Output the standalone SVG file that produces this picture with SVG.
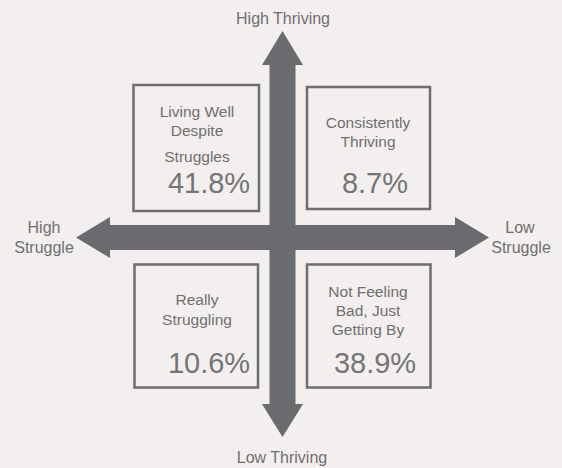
<svg xmlns="http://www.w3.org/2000/svg" width="562" height="468" viewBox="0 0 562 468">
<style>
text{font-family:"Liberation Sans",Arial,sans-serif;fill:#6f6f6f;text-anchor:middle}
.ax{font-size:16px}
.lb{font-size:15.5px}
.pc{font-size:29px;fill:#757575}
.box{fill:none;stroke:#6e6e6e;stroke-width:2.5}
.arr{fill:#6a6b6e}
</style>
<rect width="562" height="468" fill="#f2efee"/>
<g id="connectors">
<path class="arr" d="M269.5,65 L262,65 L282.5,31 L303,65 L295.5,65 L295.5,404 L303,404 L282.5,437 L262,404 L269.5,404 Z"/>
<path class="arr" d="M110,225 L110,217 L76,237.5 L110,258 L110,250 L455,250 L455,258 L489,237.5 L455,217 L455,225 Z"/>
</g>
<g id="axis-top"><text class="ax" x="283" y="24">High Thriving</text></g>
<g id="axis-bottom"><text class="ax" x="282" y="463">Low Thriving</text></g>
<g id="axis-left"><text class="ax" x="44" y="233">High</text><text class="ax" x="44" y="253">Struggle</text></g>
<g id="axis-right"><text class="ax" x="520" y="233">Low</text><text class="ax" x="521" y="253">Struggle</text></g>
<g id="q-living-well">
<rect class="box" x="133.5" y="85" width="125.5" height="126"/>
<text class="lb" x="197" y="117">Living Well</text>
<text class="lb" x="197" y="136">Despite</text>
<text class="lb" x="197" y="162">Struggles</text>
<text class="pc" x="209" y="193">41.8%</text>
</g>
<g id="q-consistently">
<rect class="box" x="307" y="87" width="123" height="122"/>
<text class="lb" x="368" y="128">Consistently</text>
<text class="lb" x="368" y="147">Thriving</text>
<text class="pc" x="375" y="193">8.7%</text>
</g>
<g id="q-really">
<rect class="box" x="134.5" y="264.5" width="123.5" height="123"/>
<text class="lb" x="197" y="305">Really</text>
<text class="lb" x="197" y="325">Struggling</text>
<text class="pc" x="209" y="373">10.6%</text>
</g>
<g id="q-not-feeling">
<rect class="box" x="307" y="264.5" width="123.5" height="123"/>
<text class="lb" x="368" y="297">Not Feeling</text>
<text class="lb" x="368" y="316">Bad, Just</text>
<text class="lb" x="368" y="335">Getting By</text>
<text class="pc" x="375" y="373">38.9%</text>
</g>
</svg>
